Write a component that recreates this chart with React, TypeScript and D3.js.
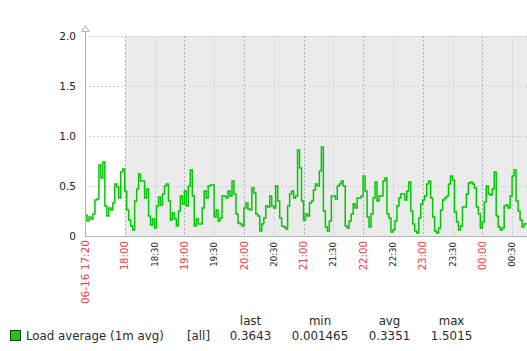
import * as d3 from "d3";

// Load average (1m avg), one reading every 2 minutes from 06-16 17:20
const startTime = new Date(2024, 5, 16, 17, 20);
const endTime = new Date(2024, 5, 17, 0, 45);
const workEnd = new Date(2024, 5, 16, 18, 0);
const sampleMinutes = 2;

const loadValues = [
  0.21, 0.15, 0.19, 0.17, 0.22, 0.36, 0.37, 0.71, 0.58, 0.74, 0.3, 0.2, 0.28, 0.26, 0.33, 0.52,
  0.49, 0.38, 0.64, 0.67, 0.45, 0.26, 0.16, 0.1, 0.06, 0.35, 0.47, 0.62, 0.55, 0.55, 0.38, 0.47,
  0.2, 0.11, 0.17, 0.08, 0.3, 0.39, 0.31, 0.42, 0.5, 0.52, 0.35, 0.16, 0.23, 0.17, 0.1, 0.25,
  0.4, 0.32, 0.45, 0.3, 0.5, 0.66, 0.4, 0.1, 0.17, 0.12, 0.12, 0.28, 0.45, 0.38, 0.5,
  0.51, 0.51, 0.19, 0.26, 0.15, 0.18, 0.4, 0.4, 0.38, 0.45, 0.4, 0.55, 0.42, 0.22, 0.13, 0.12,
  0.1, 0.28, 0.33, 0.27, 0.26, 0.48, 0.43, 0.22, 0.2, 0.05, 0.12, 0.18, 0.3, 0.29, 0.4,
  0.3, 0.28, 0.5, 0.35, 0.18, 0.1, 0.09, 0.07, 0.3, 0.42, 0.45, 0.38, 0.4, 0.86, 0.68, 0.35,
  0.16, 0.22, 0.2, 0.33, 0.35, 0.46, 0.52, 0.5, 0.65, 0.89, 0.25, 0.09, 0.05, 0.15, 0.4,
  0.4, 0.37, 0.5, 0.52, 0.55, 0.5, 0.1, 0.08, 0.15, 0.22, 0.32, 0.28, 0.38, 0.38, 0.4, 0.6,
  0.45, 0.19, 0.09, 0.22, 0.38, 0.54, 0.35, 0.4, 0.4, 0.55, 0.58, 0.22, 0.18, 0.04, 0.06,
  0.15, 0.3, 0.38, 0.42, 0.42, 0.36, 0.45, 0.54, 0.25, 0.12, 0.05, 0.03, 0.18, 0.32, 0.36, 0.4,
  0.52, 0.55, 0.38, 0.19, 0.05, 0.03, 0.08, 0.26, 0.36, 0.38, 0.4, 0.52, 0.6, 0.56, 0.24,
  0.14, 0.06, 0.1, 0.29, 0.29, 0.42, 0.53, 0.54, 0.52, 0.48, 0.29, 0.22, 0.08, 0.14, 0.34, 0.5,
  0.42, 0.41, 0.47, 0.64, 0.2, 0.09, 0.06, 0.08, 0.3, 0.31, 0.28, 0.4, 0.6, 0.66, 0.35, 0.25,
  0.16, 0.09, 0.12, 0.13,
];

const yTicks = [0, 0.5, 1.0, 1.5, 2.0];
const legendName = "Load average (1m avg)";
const legendFunc = "[all]";
const legendHeaders = ["last", "min", "avg", "max"];
const legendValues = ["0.3643", "0.001465", "0.3351", "1.5015"];

const W = 527;
const H = 351;
const margin = { top: 36, right: 0, bottom: 115, left: 85 };
const FONT = "'DejaVu Sans', sans-serif";

export default function App() {
  const x = d3.scaleTime().domain([startTime, endTime]).range([margin.left, W - margin.right]);
  const y = d3.scaleLinear().domain([0, 2]).range([H - margin.bottom, margin.top]);

  const points = loadValues.map((v, i) => ({
    t: d3.timeMinute.offset(startTime, i * sampleMinutes),
    v,
  }));

  const line = d3
    .line<{ t: Date; v: number }>()
    .x((d) => x(d.t))
    .y((d) => y(d.v))
    .curve(d3.curveStepAfter);

  const xTicks = d3.timeMinute.every(30)!.range(workEnd, endTime);
  const fmt = d3.timeFormat("%H:%M");
  const x0 = margin.left;
  const x1 = W - margin.right;
  const yBase = y(0);
  const yTop = y(2);

  // legend columns are centred on these
  const colX = [250.5, 320, 389.5, 451.5];

  return (
    <svg
      width={W}
      height={H}
      style={{ position: "absolute", left: 0, top: 0, background: "#fff" }}
      fontFamily={FONT}
    >
      {/* non-working hours shading */}
      <rect x={x(workEnd)} y={yTop} width={x1 - x(workEnd)} height={yBase - yTop} fill="#ebebeb" />

      {/* horizontal grid */}
      {yTicks.slice(1).map((t) => (
        <line
          key={"h" + t}
          x1={x0}
          x2={x1}
          y1={y(t) + 0.5}
          y2={y(t) + 0.5}
          stroke="#c9d1d6"
          strokeDasharray="2,2"
        />
      ))}

      {/* vertical grid */}
      {xTicks.map((t) => (
        <line
          key={"v" + t.getTime()}
          x1={Math.round(x(t)) + 0.5}
          x2={Math.round(x(t)) + 0.5}
          y1={yTop}
          y2={yBase}
          stroke={t.getMinutes() === 0 ? "#a7b3b9" : "#c9d1d6"}
          strokeDasharray="2,2"
        />
      ))}

      {/* series */}
      <path d={line(points) ?? ""} fill="none" stroke="#00c800" strokeWidth={1.5} />

      {/* axes */}
      <line x1={x0 + 0.5} x2={x0 + 0.5} y1={28} y2={yBase + 1} stroke="#aab4ba" />
      <line x1={x0} x2={x1} y1={yBase + 0.5} y2={yBase + 0.5} stroke="#aab4ba" />
      <path
        d={`M${x0 - 3},${31.5}L${x0 + 0.5},${25.5}L${x0 + 4},${31.5}Z`}
        fill="#fff"
        stroke="#aab4ba"
      />

      {/* y labels */}
      {yTicks.map((t) => (
        <text
          key={"yl" + t}
          x={76}
          y={y(t)}
          dy="0.36em"
          textAnchor="end"
          fontSize={10.5}
          fill="#222"
        >
          {t === 0 ? "0" : t.toFixed(1)}
        </text>
      ))}

      {/* x labels */}
      <text
        transform={`translate(${x(startTime)},240) rotate(-90)`}
        textAnchor="end"
        dy="0.36em"
        fontSize={10.5}
        fill="#f03a3a"
      >
        06-16 17:20
      </text>
      {xTicks.map((t) => {
        const hour = t.getMinutes() === 0;
        return (
          <text
            key={"xl" + t.getTime()}
            transform={`translate(${x(t)},${hour ? 241 : 242}) rotate(-90)`}
            textAnchor="end"
            dy="0.36em"
            fontSize={hour ? 10.2 : 8.6}
            fill={hour ? "#f03a3a" : "#222"}
          >
            {fmt(t)}
          </text>
        );
      })}

      {/* legend */}
      <rect x={10.5} y={330.5} width={10} height={10} fill="#1ec81e" stroke="#1f3a1f" />
      <text x={26} y={340} fontSize={11.8} fill="#2a2a2a">
        {legendName}
      </text>
      <text x={187} y={340} fontSize={11.8} fill="#2a2a2a">
        {legendFunc}
      </text>
      {legendHeaders.map((h, i) => (
        <text key={h} x={colX[i]} y={325} textAnchor="middle" fontSize={11.8} fill="#2a2a2a">
          {h}
        </text>
      ))}
      {legendValues.map((v, i) => (
        <text key={"lv" + i} x={colX[i]} y={340} textAnchor="middle" fontSize={11.8} fill="#2a2a2a">
          {v}
        </text>
      ))}
    </svg>
  );
}
